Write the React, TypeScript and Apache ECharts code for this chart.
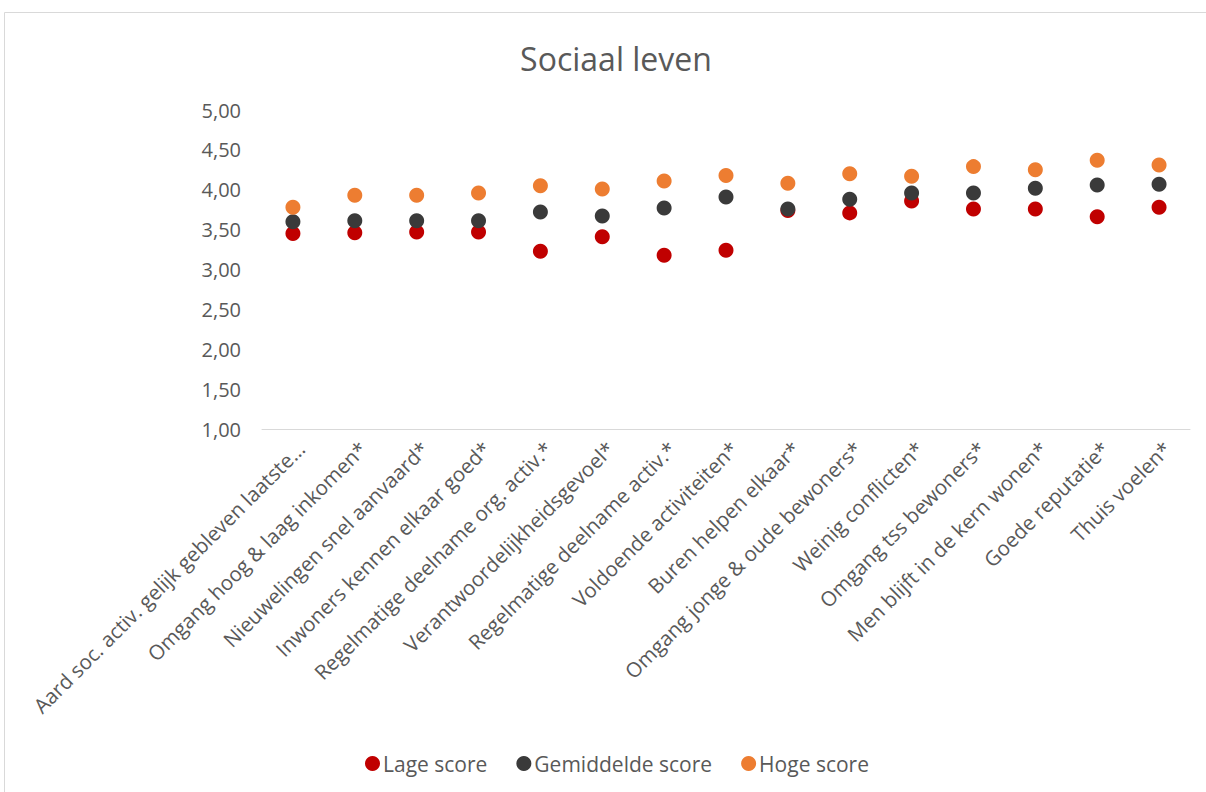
import React, { useEffect, useRef } from "react";
import * as echarts from "echarts";

const categories = [
  "Aard soc. activ. gelijk gebleven laatste...",
  "Omgang hoog & laag inkomen*",
  "Nieuwelingen snel aanvaard*",
  "Inwoners kennen elkaar goed*",
  "Regelmatige deelname org. activ.*",
  "Verantwoordelijkheidsgevoel*",
  "Regelmatige deelname activ.*",
  "Voldoende activiteiten*",
  "Buren helpen elkaar*",
  "Omgang jonge & oude bewoners*",
  "Weinig conflicten*",
  "Omgang tss bewoners*",
  "Men blijft in de kern wonen*",
  "Goede reputatie*",
  "Thuis voelen*",
];

const lageScore = [3.45, 3.46, 3.47, 3.47, 3.23, 3.41, 3.18, 3.24, 3.74, 3.71, 3.86, 3.76, 3.76, 3.66, 3.78];
const gemiddeldeScore = [3.6, 3.61, 3.61, 3.61, 3.72, 3.67, 3.77, 3.91, 3.76, 3.88, 3.96, 3.96, 4.02, 4.06, 4.07];
const hogeScore = [3.78, 3.93, 3.93, 3.96, 4.05, 4.01, 4.11, 4.18, 4.08, 4.2, 4.17, 4.29, 4.25, 4.37, 4.31];

const FONT = "'Open Sans', Calibri, sans-serif";
const TEXT = "#595959";

export default function App() {
  const ref = useRef<HTMLDivElement>(null);
  useEffect(() => {
    if (!ref.current) return;
    const chart = echarts.init(ref.current, undefined, { renderer: "svg" });
    const mk = (name: string, data: number[], color: string) => ({
      name,
      type: "scatter",
      data,
      symbol: "circle",
      symbolSize: 15,
      itemStyle: { color, opacity: 1 },
    });
    chart.setOption({
      animation: false,
      backgroundColor: "#ffffff",
      textStyle: { fontFamily: FONT },
      graphic: [
        {
          type: "rect",
          shape: { x: 4.5, y: 12.5, width: 1220, height: 800 },
          style: { fill: "none", stroke: "#D9D9D9", lineWidth: 1 },
          silent: true,
        },
      ],
      title: {
        text: "Sociaal leven",
        left: 611,
        textAlign: "center",
        top: 37,
        textStyle: { fontFamily: FONT, fontSize: 32, fontWeight: "normal", color: TEXT },
      },
      legend: {
        bottom: 13,
        left: 360,
        icon: "circle",
        itemWidth: 15,
        itemHeight: 15,
        itemGap: 29,
        textStyle: { fontFamily: FONT, fontSize: 21, color: TEXT, padding: [0, 0, 0, -2] },
        data: ["Lage score", "Gemiddelde score", "Hoge score"],
      },
      grid: [
        { left: 262, right: 16, top: 110, bottom: 363, containLabel: false },
        { left: 270, right: 8, top: 110, bottom: 363, containLabel: false },
      ],
      xAxis: [
        {
          type: "category",
          gridIndex: 0,
          data: categories,
          boundaryGap: true,
          axisLine: { show: true, lineStyle: { color: "#D9D9D9", width: 1 } },
          axisTick: { show: false },
          splitLine: { show: false },
          axisLabel: { show: false },
        },
        {
          type: "category",
          gridIndex: 1,
          data: categories,
          boundaryGap: true,
          axisLine: { show: false },
          axisTick: { show: false },
          splitLine: { show: false },
          axisLabel: {
            interval: 0,
            rotate: 45,
            margin: 16,
            fontFamily: FONT,
            fontSize: 20.5,
            color: TEXT,
          },
        },
      ],
      yAxis: [
        {
          type: "value",
          gridIndex: 0,
          min: 1,
          max: 5,
          interval: 0.5,
          axisLine: { show: false },
          axisTick: { show: false },
          splitLine: { show: false },
          axisLabel: {
            margin: 21,
            fontFamily: FONT,
            fontSize: 20,
            color: TEXT,
            formatter: (v: number) => v.toFixed(2).replace(".", ","),
          },
        },
        {
          type: "value",
          gridIndex: 1,
          min: 1,
          max: 5,
          show: false,
        },
      ],
      series: [
        mk("Lage score", lageScore, "#C00000"),
        mk("Gemiddelde score", gemiddeldeScore, "#3A3A3A"),
        mk("Hoge score", hogeScore, "#ED7D31"),
      ],
    });
    return () => chart.dispose();
  }, []);
  return (
    <div
      ref={ref}
      style={{ position: "fixed", left: 0, top: 0, width: 1206, height: 792, background: "#fff" }}
    />
  );
}
